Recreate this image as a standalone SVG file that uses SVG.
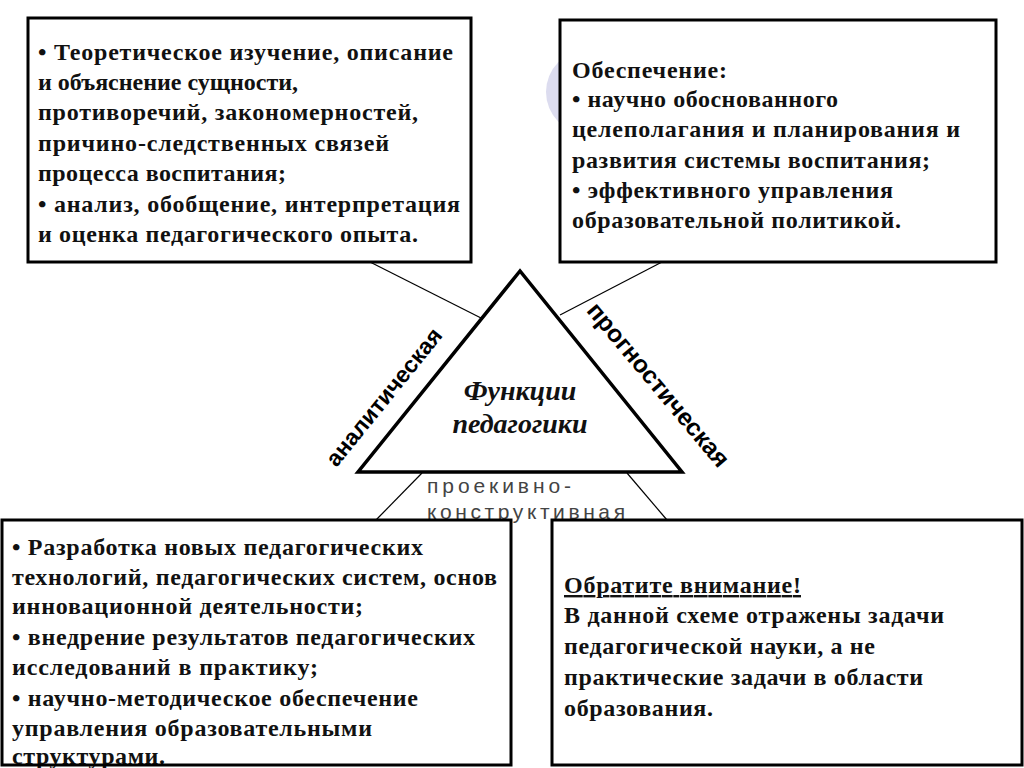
<svg xmlns="http://www.w3.org/2000/svg" width="1024" height="768" viewBox="0 0 1024 768">
<style>
.box{fill:#fff;stroke:#000;stroke-width:3}
.frame{fill:none;stroke:#000;stroke-width:3}
.t{font-family:"Liberation Serif","Times New Roman",serif;font-weight:bold;font-size:24px;fill:#111}
.conn{stroke:#000;stroke-width:1.2;fill:none}
.side{font-family:"Liberation Sans",Arial,sans-serif;font-weight:bold;fill:#000}
.c{font-family:"Liberation Sans",Arial,sans-serif;font-size:21px;fill:#444}
.fn{font-family:"Liberation Serif","Times New Roman",serif;font-weight:bold;font-style:italic;font-size:28px;fill:#111}
</style>
<rect width="1024" height="768" fill="#fff"/>
<circle cx="588" cy="92" r="42" fill="#dcdcef"/>
<g id="connectors">
<line class="conn" x1="370" y1="262" x2="481" y2="318"/>
<line class="conn" x1="662" y1="262" x2="560" y2="315"/>
<line class="conn" x1="422" y1="473" x2="376" y2="520"/>
<line class="conn" x1="627" y1="473" x2="667" y2="520"/>
</g>
<g id="box-top-left">
<rect class="box" x="28" y="18" width="443" height="244"/>
<text class="t" x="38" y="60" textLength="415" lengthAdjust="spacing">• Теоретическое изучение, описание</text>
<text class="t" x="38" y="90" textLength="260" lengthAdjust="spacing">и объяснение сущности,</text>
<text class="t" x="38" y="120" textLength="380" lengthAdjust="spacing">противоречий, закономерностей,</text>
<text class="t" x="38" y="151" textLength="351" lengthAdjust="spacing">причино-следственных связей</text>
<text class="t" x="38" y="181" textLength="248" lengthAdjust="spacing">процесса воспитания;</text>
<text class="t" x="38" y="212" textLength="422" lengthAdjust="spacing">• анализ, обобщение, интерпретация</text>
<text class="t" x="38" y="242" textLength="380" lengthAdjust="spacing">и оценка педагогического опыта.</text>
</g>
<g id="box-top-right">
<rect class="box" x="560" y="20" width="436" height="242"/>
<text class="t" x="572" y="78" textLength="155" lengthAdjust="spacing">Обеспечение:</text>
<text class="t" x="572" y="107" textLength="266" lengthAdjust="spacing">• научно обоснованного</text>
<text class="t" x="572" y="137" textLength="388" lengthAdjust="spacing">целеполагания и планирования и</text>
<text class="t" x="572" y="168" textLength="358" lengthAdjust="spacing">развития системы воспитания;</text>
<text class="t" x="572" y="198" textLength="321" lengthAdjust="spacing">• эффективного управления</text>
<text class="t" x="572" y="228" textLength="329" lengthAdjust="spacing">образовательной политикой.</text>
</g>
<g id="triangle">
<polygon points="520,271 358,472 682,472" fill="#fff" stroke="#000" stroke-width="3.5" stroke-linejoin="miter"/>
<text class="fn" x="520" y="400" text-anchor="middle">Функции</text>
<text class="fn" x="520" y="433" text-anchor="middle">педагогики</text>
</g>
<g id="label-analytic">
<text class="side" font-size="23" text-anchor="middle" transform="translate(390,402) rotate(-51)">аналитическая</text>
</g>
<g id="label-prognostic">
<text class="side" font-size="24.5" text-anchor="middle" transform="translate(652,390) rotate(50)">прогностическая</text>
</g>
<g id="label-constructive">
<text class="c" x="427" y="493" textLength="144" lengthAdjust="spacing">проекивно-</text>
<text class="c" x="427" y="519" textLength="198" lengthAdjust="spacing">конструктивная</text>
</g>
<g id="box-bottom-left">
<rect x="2" y="520" width="509" height="245" fill="#fff"/>
<text class="t" x="12" y="555" textLength="411" lengthAdjust="spacing">• Разработка новых педагогических</text>
<text class="t" x="12" y="585" textLength="485" lengthAdjust="spacing">технологий, педагогических систем, основ</text>
<text class="t" x="12" y="614" textLength="351" lengthAdjust="spacing">инновационной деятельности;</text>
<text class="t" x="12" y="645" textLength="463" lengthAdjust="spacing">• внедрение результатов педагогических</text>
<text class="t" x="12" y="675" textLength="306" lengthAdjust="spacing">исследований в практику;</text>
<text class="t" x="12" y="706" textLength="406" lengthAdjust="spacing">• научно-методическое обеспечение</text>
<text class="t" x="12" y="736" textLength="360" lengthAdjust="spacing">управления образовательными</text>
<text class="t" x="12" y="764" textLength="153" lengthAdjust="spacing">структурами.</text>
<rect class="frame" x="2" y="520" width="509" height="245"/>
</g>
<g id="box-bottom-right">
<rect class="box" x="552" y="520" width="470" height="245"/>
<text class="t" x="564" y="593" text-decoration="underline" textLength="237" lengthAdjust="spacing">Обратите внимание!</text>
<text class="t" x="564" y="623" textLength="380" lengthAdjust="spacing">В данной схеме отражены задачи</text>
<text class="t" x="564" y="654" textLength="311" lengthAdjust="spacing">педагогической науки, а не</text>
<text class="t" x="564" y="685" textLength="359" lengthAdjust="spacing">практические задачи в области</text>
<text class="t" x="564" y="716" textLength="149" lengthAdjust="spacing">образования.</text>
</g>
</svg>
